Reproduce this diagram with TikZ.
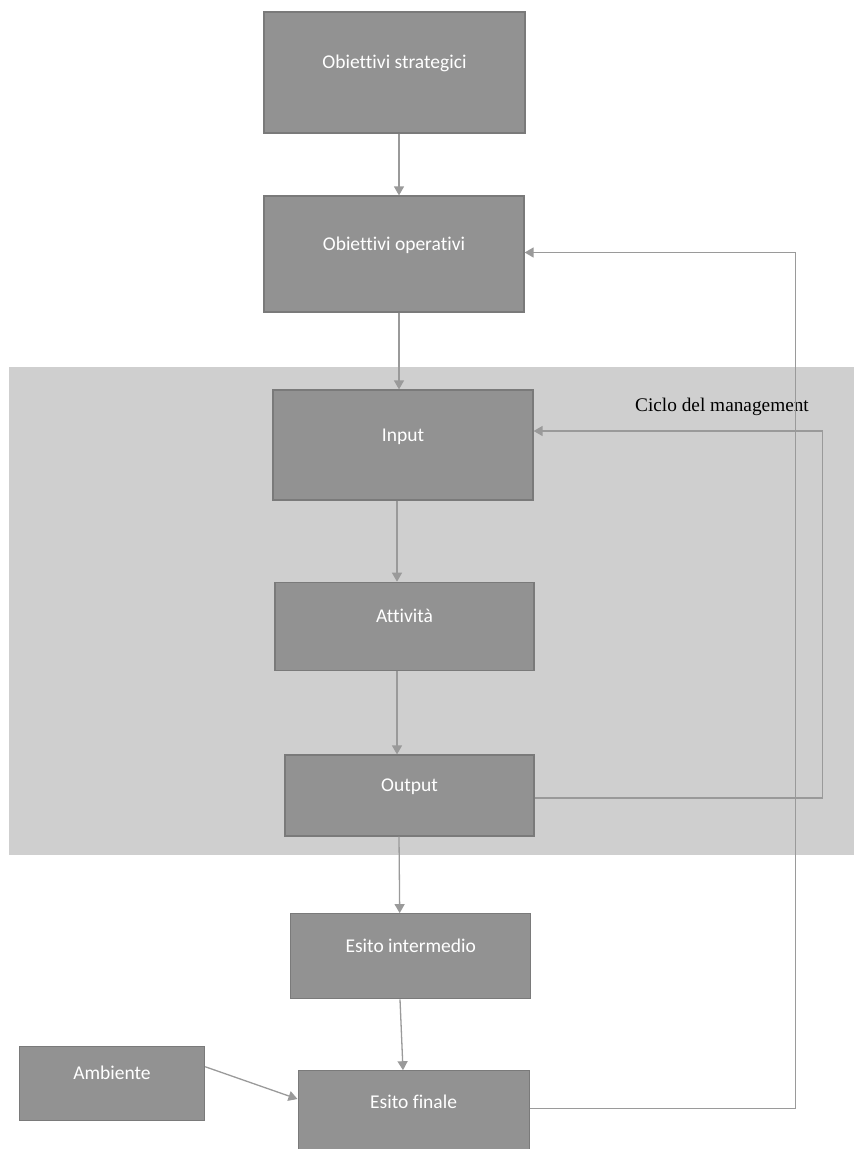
\documentclass[tikz,border=0pt]{standalone}
\usepackage{fontspec}
\setmainfont{Carlito}[Ligatures=NoCommon]
\newfontfamily\cyclefont{Liberation Serif}
\usetikzlibrary{arrows.meta}
\definecolor{boxgray}{HTML}{929292}
\definecolor{boxline}{HTML}{7A7A7A}
\definecolor{linkgray}{HTML}{9A9A9A}
\definecolor{bggray}{HTML}{CFCFCF}

\begin{document}
\begin{tikzpicture}[x=1pt,y=-1pt,>={Triangle[length=9pt,width=10pt]},
    box/.style={rectangle,draw=boxline,fill=boxgray,line width=1.2pt,text=white,
      font=\fontsize{19.5}{22}\selectfont,inner sep=0pt,text height=14pt,text depth=22pt},
    link/.style={draw=linkgray,line width=1.3pt}]
  \useasboundingbox (0,0) rectangle (854,1149);
  \fill[bggray] (9,367) rectangle (854,855);
  \node[anchor=base,font=\cyclefont\fontsize{19.3}{22}\selectfont] (ciclo) at (722,411.7) {Ciclo del management};

  \node[box,minimum width=261pt,minimum height=121pt] (strat) at (394.5,72.5) {Obiettivi strategici};
  \node[box,minimum width=260pt,minimum height=116pt] (oper) at (394,254) {Obiettivi operativi};
  \node[box,minimum width=260pt,minimum height=110pt] (inp) at (403,445) {Input};
  \node[box,minimum width=259pt,minimum height=88pt] (att) at (404.5,626.3) {Attività};
  \node[box,minimum width=249pt,minimum height=81pt] (out) at (409.5,795.5) {Output};
  \node[box,minimum width=240pt,minimum height=85pt] (inter) at (410.7,956.2) {Esito intermedio};
  \node[box,minimum width=185pt,minimum height=74pt] (amb) at (112,1083.7) {Ambiente};
  \node[box,minimum width=231pt,minimum height=83pt] (fin) at (413.6,1112.3) {Esito finale};

  \draw[->,link] ([xshift=4.5pt]strat.south) -- ([xshift=5pt]oper.north);
  \draw[->,link] ([xshift=5pt]oper.south) -- ([xshift=-4pt]inp.north);
  \draw[->,link] ([xshift=-6pt]inp.south) -- ([xshift=-7.5pt]att.north);
  \draw[->,link] ([xshift=-7.5pt]att.south) -- ([xshift=-12.5pt]out.north);
  \draw[->,link] ([xshift=-10.5pt]out.south) -- ([xshift=-11pt]inter.north);
  \draw[->,link] ([xshift=-10.7pt]inter.south) -- ([xshift=-10.6pt]fin.north);
  \draw[->,link] ([yshift=17pt]amb.east) -- ([yshift=13.3pt]fin.west);
  %feedback loops
  \draw[->,link] ([yshift=-2.5pt]out.east) -- ++(288,0) |- ([yshift=14pt]inp.east);
  \draw[->,link] ([yshift=3.6pt]fin.east) -- ++(266,0) |- ([yshift=1.5pt]oper.east);
\end{tikzpicture}
\end{document}
